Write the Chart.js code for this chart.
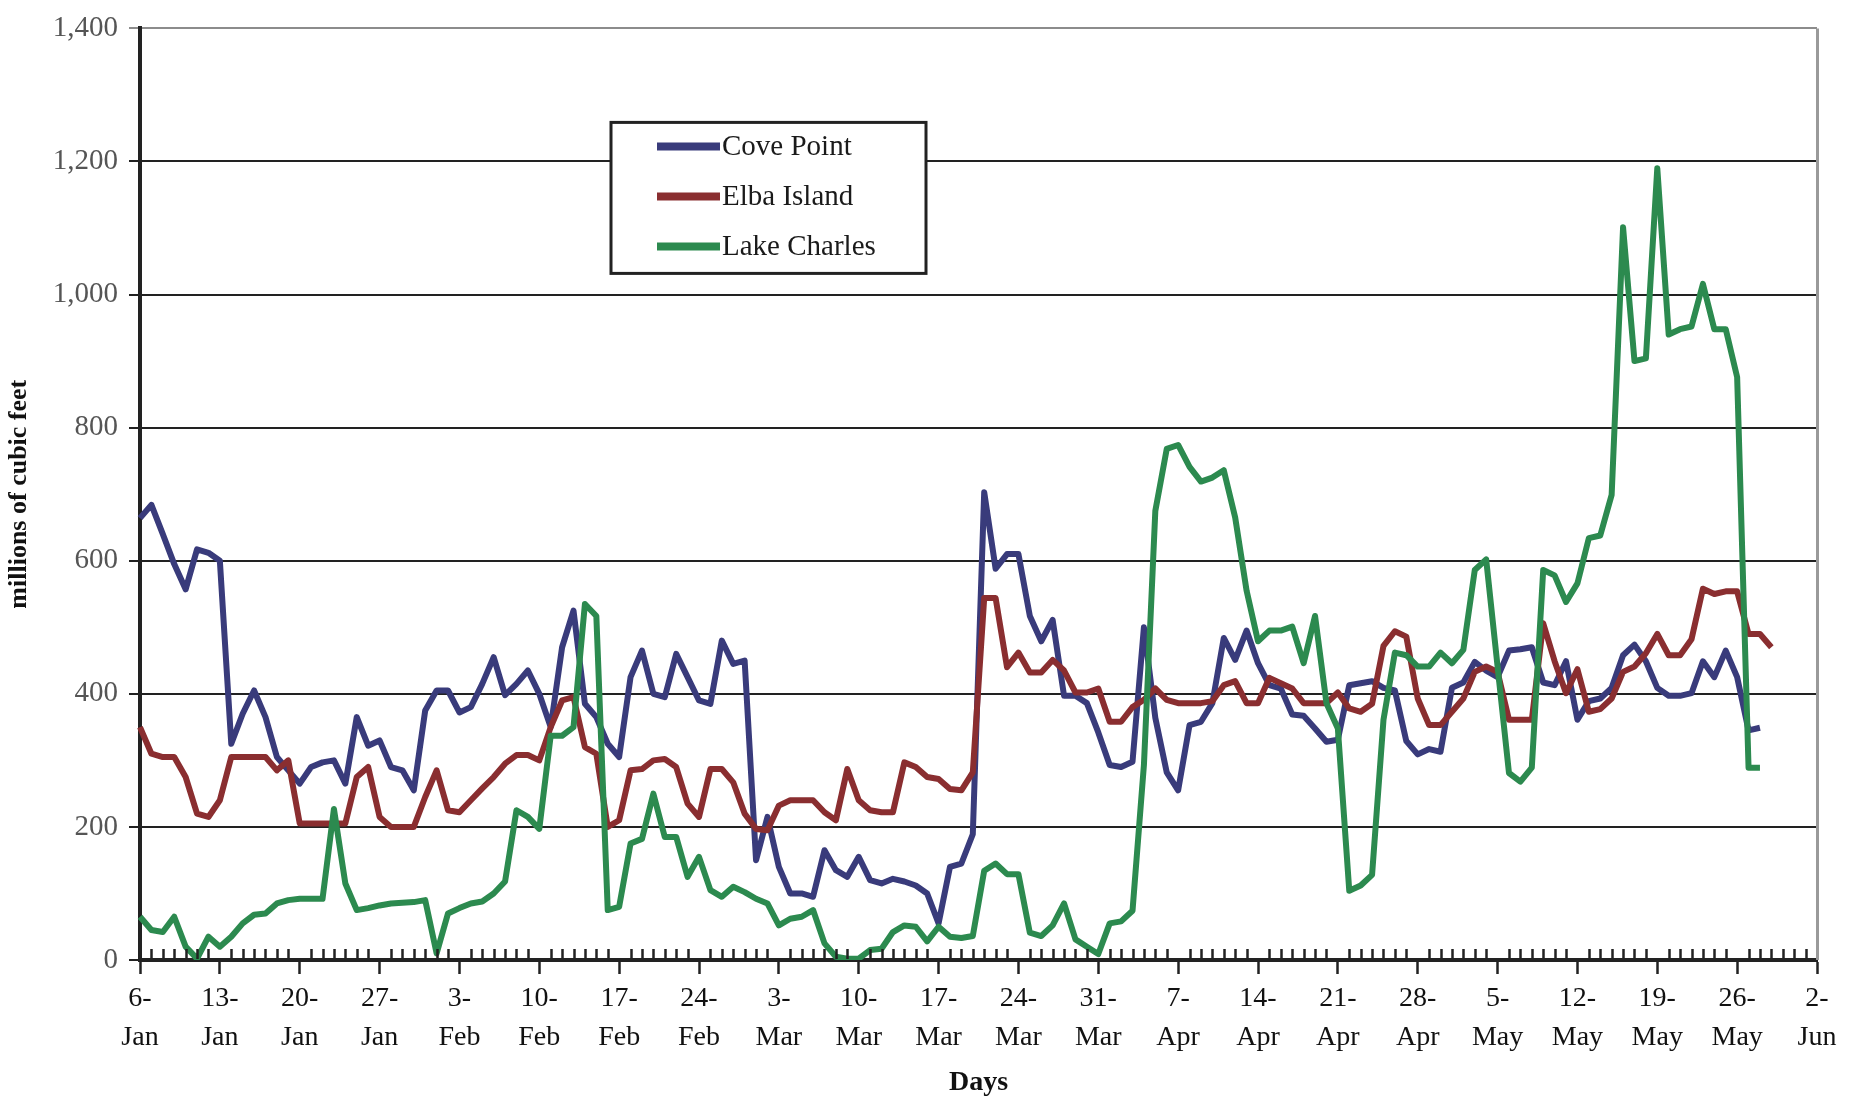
<!DOCTYPE html>
<html>
<head>
<meta charset="utf-8">
<title>LNG sendout by terminal</title>
<script src="https://cdn.jsdelivr.net/npm/chart.js@4.4.1/dist/chart.umd.min.js"></script>
<style>
  html, body { margin: 0; padding: 0; background: #ffffff; }
  #wrap { width: 1854px; height: 1101px; }
</style>
</head>
<body>
<div id="wrap"><canvas id="chart" width="1854" height="1101"></canvas></div>
<script>
// Daily sendout, millions of cubic feet, starting 6 January
const firstDay = { year: 2003, month: 0, day: 6 };
const dayCount = 148; // 6-Jan through 2-Jun

// Weekly tick labels (every 7th day)
const weekLabels = [
  ['6-', 'Jan'], ['13-', 'Jan'], ['20-', 'Jan'], ['27-', 'Jan'],
  ['3-', 'Feb'], ['10-', 'Feb'], ['17-', 'Feb'], ['24-', 'Feb'],
  ['3-', 'Mar'], ['10-', 'Mar'], ['17-', 'Mar'], ['24-', 'Mar'], ['31-', 'Mar'],
  ['7-', 'Apr'], ['14-', 'Apr'], ['21-', 'Apr'], ['28-', 'Apr'],
  ['5-', 'May'], ['12-', 'May'], ['19-', 'May'], ['26-', 'May'],
  ['2-', 'Jun']
];

const seriesNames = ['Cove Point', 'Elba Island', 'Lake Charles'];
const seriesColors = ['#393b7b', '#8a2e30', '#2c8a4f'];

const covePoint = [
  664, 684, 640, 595, 557, 617, 612, 600, 325, 370, 405, 365, 305, 285,
  265, 290, 297, 300, 265, 365, 322, 330, 290, 285, 255, 375, 405, 405,
  372, 380, 415, 455, 398, 415, 435, 400, 350, 470, 525, 385, 365, 325,
  305, 425, 465, 400, 395, 460, 425, 390, 385, 480, 445, 450, 150, 215,
  140, 100, 100, 95, 165, 135, 125, 155, 120, 115, 122, 118, 112, 100,
  55, 140, 145, 189, 703, 588, 610, 610, 517, 479, 511, 397, 397, 386,
  342, 293, 290, 298, 500, 364, 282, 255, 353, 358, 386, 484, 451, 495,
  446, 413, 408, 369, 367, 348, 328, 331, 413, 416, 419, 409, 405, 329,
  309, 317, 313, 409, 417, 448, 435, 425, 465, 467, 470, 417, 413, 449,
  361, 389, 393, 409, 458, 474, 449, 409, 397, 397, 401, 449, 425, 465,
  425, 345, 349
];

const elbaIsland = [
  350, 310, 305, 305, 275, 220, 215, 240, 305, 305, 305, 305, 285, 300,
  205, 205, 205, 205, 205, 275, 290, 215, 200, 200, 200, 245, 285, 225,
  222, 240, 258, 275, 295, 308, 308, 300, 350, 390, 395, 320, 310, 200,
  210, 285, 287, 300, 302, 290, 235, 215, 287, 287, 267, 220, 197, 195,
  232, 240, 240, 240, 222, 210, 287, 240, 225, 222, 222, 297, 290, 275,
  272, 257, 255, 282, 544, 544, 440, 462, 432, 432, 451, 435, 402, 402,
  408, 358, 358, 380, 391, 408, 391, 386, 386, 386, 389, 413, 419, 386,
  386, 424, 416, 408, 386, 386, 386, 402, 378, 373, 385, 472, 494, 486,
  393, 353, 353, 373, 393, 433, 441, 433, 361, 361, 361, 506, 449, 401,
  437, 373, 377, 393, 433, 441, 461, 490, 458, 458, 482, 558, 550, 554,
  554, 490, 490, 470
];

const lakeCharles = [
  65, 45, 42, 65, 20, 2, 35, 20, 35, 55, 68, 70, 85, 90,
  92, 92, 92, 227, 115, 75, 78, 82, 85, 86, 87, 90, 10, 70,
  78, 85, 88, 100, 118, 225, 215, 197, 337, 337, 350, 535, 517, 75,
  80, 175, 182, 250, 185, 185, 125, 155, 105, 95, 110, 102, 92, 85,
  52, 62, 65, 75, 25, 5, 2, 2, 15, 17, 42, 52, 50, 28,
  50, 35, 33, 36, 134, 145, 129, 129, 41, 36, 52, 85, 31, 20,
  9, 55, 58, 74, 293, 675, 768, 774, 741, 719, 725, 736, 665, 555,
  479, 495, 495, 501, 446, 517, 386, 348, 104, 112, 128, 361, 462, 458,
  441, 441, 462, 446, 466, 586, 602, 441, 281, 268, 289, 586, 578, 538,
  566, 634, 638, 699, 1101, 900, 904, 1190, 940, 948, 952, 1016, 948, 948,
  876, 289, 289
];

const yTicks = [0, 200, 400, 600, 800, 1000, 1200, 1400];

// One category per calendar day
const MONTHS = ['Jan', 'Feb', 'Mar', 'Apr', 'May', 'Jun', 'Jul', 'Aug', 'Sep', 'Oct', 'Nov', 'Dec'];
const dayLabels = [];
for (let i = 0; i < dayCount; i++) {
  const d = new Date(firstDay.year, firstDay.month, firstDay.day + i);
  dayLabels.push(d.getDate() + '-' + MONTHS[d.getMonth()]);
}

const SERIF = '"Liberation Serif", "Times New Roman", serif';
const INK = '#222222';

// Small daily tick marks standing up from the x axis, between the weekly ticks
const minorTicks = {
  id: 'minorTicks',
  afterDraw(chart) {
    const { ctx, chartArea } = chart;
    const x = chart.scales.x;
    ctx.save();
    ctx.strokeStyle = INK;
    ctx.lineWidth = 2.5;
    ctx.beginPath();
    for (let i = 0; i < dayCount; i++) {
      if (i % 7 === 0) continue;
      const px = Math.round(x.getPixelForValue(i)) + 0.5;
      ctx.moveTo(px, chartArea.bottom - 1);
      ctx.lineTo(px, chartArea.bottom - 11);
    }
    ctx.stroke();
    // light frame line on the right side of the plot
    ctx.strokeStyle = '#9a9a9a';
    ctx.lineWidth = 3;
    ctx.beginPath();
    ctx.moveTo(chartArea.right + 0.5, chartArea.top);
    ctx.lineTo(chartArea.right + 0.5, chartArea.bottom);
    ctx.stroke();
    ctx.restore();
  }
};

// Boxed legend sitting inside the plot area
const boxedLegend = {
  id: 'boxedLegend',
  afterDraw(chart) {
    const { ctx, chartArea } = chart;
    const left = chartArea.left + 471;
    const top = chartArea.top + 94;
    const w = 315, h = 151;
    ctx.save();
    ctx.fillStyle = '#ffffff';
    ctx.fillRect(left, top, w, h);
    ctx.strokeStyle = INK;
    ctx.lineWidth = 3;
    ctx.strokeRect(left, top, w, h);
    ctx.font = '29px ' + SERIF;
    ctx.textBaseline = 'middle';
    ctx.textAlign = 'left';
    chart.data.datasets.forEach((ds, i) => {
      const y = top + 24 + i * 50;
      ctx.strokeStyle = ds.borderColor;
      ctx.lineWidth = 8;
      ctx.beginPath();
      ctx.moveTo(left + 46, y);
      ctx.lineTo(left + 109, y);
      ctx.stroke();
      ctx.fillStyle = '#1a1a1a';
      ctx.fillText(ds.label, left + 111, y + 1);
    });
    ctx.restore();
  }
};

const seriesData = [covePoint, elbaIsland, lakeCharles];

new Chart(document.getElementById('chart'), {
  type: 'line',
  data: {
    labels: dayLabels,
    datasets: seriesData.map((values, i) => ({
      label: seriesNames[i],
      data: values,
      borderColor: seriesColors[i],
      backgroundColor: seriesColors[i],
      borderWidth: 6,
      pointRadius: 0,
      tension: 0,
      borderJoinStyle: 'round',
      borderCapStyle: 'butt',
      fill: false,
      order: 2 - i
    }))
  },
  options: {
    responsive: false,
    animation: false,
    devicePixelRatio: 1,
    layout: { padding: { left: 0, right: 37, top: 26, bottom: 0 } },
    plugins: {
      legend: { display: false },
      tooltip: { enabled: false }
    },
    scales: {
      x: {
        type: 'category',
        offset: false,
        afterFit(scale) { scale.height = 141; },
        border: { display: true, color: INK, width: 4 },
        grid: {
          display: true,
          drawOnChartArea: false,
          drawTicks: true,
          tickLength: 14,
          tickWidth: 2.5,
          tickColor: (c) => (c.index % 7 === 0 ? INK : 'rgba(0,0,0,0)')
        },
        ticks: {
          autoSkip: false,
          maxRotation: 0,
          minRotation: 0,
          padding: 5,
          color: '#111111',
          font: { family: SERIF, size: 28, lineHeight: 1.39 },
          callback: (value, index) => (index % 7 === 0 ? weekLabels[index / 7] : '')
        },
        title: {
          display: true,
          text: 'Days',
          color: '#111111',
          font: { family: SERIF, size: 28, weight: 'bold' },
          padding: { top: 0, bottom: 1 }
        }
      },
      y: {
        min: yTicks[0],
        max: yTicks[yTicks.length - 1],
        afterFit(scale) { scale.width = 140; },
        afterBuildTicks(scale) { scale.ticks = yTicks.map(v => ({ value: v })); },
        border: { display: true, color: INK, width: 4 },
        grid: {
          color: (c) => (c.tick && c.tick.value === 1400 ? '#8c8c8c' : INK),
          lineWidth: 2,
          tickLength: 11,
          drawTicks: true
        },
        ticks: {
          padding: 11,
          color: '#555555',
          font: { family: SERIF, size: 29 },
          callback: (v) => v.toLocaleString('en-US')
        },
        title: {
          display: true,
          text: 'millions of cubic feet',
          color: '#111111',
          font: { family: SERIF, size: 26, weight: 'bold' },
          padding: { top: 4, bottom: 0 }
        }
      }
    }
  },
  plugins: [minorTicks, boxedLegend]
});
</script>
</body>
</html>
